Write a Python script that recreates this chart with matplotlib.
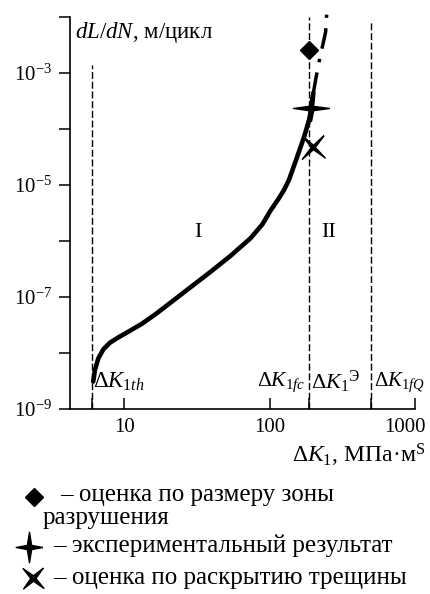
import matplotlib
matplotlib.use("Agg")
import matplotlib.pyplot as plt
from matplotlib.lines import Line2D

plt.rcParams["font.family"] = ["Liberation Serif", "DejaVu Serif"]
plt.rcParams["mathtext.fontset"] = "custom"
plt.rcParams["mathtext.rm"] = "Liberation Serif"
plt.rcParams["mathtext.it"] = "Liberation Serif:italic"
plt.rcParams["mathtext.bf"] = "Liberation Serif:bold"

# curve dL/dN (solid part, region I -> II)
k_curve = [6.14, 6.31, 6.65, 7.2, 8.0, 9.14, 10.7, 13.2, 16.4, 20.7, 28.5,
           39.2, 53.8, 74.0, 89.5, 101.6, 115, 125.6, 136, 155, 173, 187,
           197, 200]
rate_curve = [3.1e-9, 5.0e-9, 8.0e-9, 1.16e-8, 1.53e-8, 1.9e-8, 2.4e-8,
              3.3e-8, 4.9e-8, 7.8e-8, 1.48e-7, 2.8e-7, 5.4e-7, 1.12e-6,
              2.0e-6, 3.5e-6, 5.6e-6, 8.1e-6, 1.23e-5, 3.2e-5, 7.3e-5,
              1.45e-4, 2.9e-4, 4.4e-4]
# extrapolated (dash-dot) part
k_extra = [200, 208, 218, 243, 247]
rate_extra = [4.4e-4, 7.8e-4, 1.5e-3, 5.4e-3, 1.1e-2]

# point estimates
k_diamond, rate_diamond = 186, 2.6e-3
k_star, rate_star = 192, 2.4e-4
k_cross, rate_cross = 200, 4.8e-5

# characteristic levels
k_th, k_fc, k_fq = 6.0, 188, 500
rate_th_top = 1.4e-3

yticks = [1e-9, 1e-8, 1e-7, 1e-6, 1e-5, 1e-4, 1e-3, 1e-2]
ylabels = ["$10^{-9}$", "", "$10^{-7}$", "", "$10^{-5}$", "", "$10^{-3}$", ""]
xticks = [10, 100, 1000]
xlabels = ["10", "100", ""]

legend_items = ["– оценка по размеру зоны", "разрушения",
                "– экспериментальный результат",
                "– оценка по раскрытию трещины"]


def star4(rx, ry, inner):
    return [(rx, 0), (inner, inner), (0, ry), (-inner, inner),
            (-rx, 0), (-inner, -inner), (0, -ry), (inner, -inner), (rx, 0)]


star_marker = star4(1.0, 0.72, 0.12)
cross_marker = [(0.8, 0.9), (0.14, 0.0), (0.9, -0.8), (0.0, -0.17),
                (-0.85, -0.9), (-0.17, 0.0), (-0.8, 0.85), (0.0, 0.17),
                (0.8, 0.9)]
legend_star = star4(0.87, 1.0, 0.14)
legend_cross = [(0.9, 0.95), (0.22, 0.0), (0.95, -0.9), (0.0, -0.25),
                (-0.9, -0.95), (-0.25, 0.0), (-0.95, 0.9), (0.0, 0.25),
                (0.9, 0.95)]

W, H = 431, 594
fig = plt.figure(figsize=(W / 100, H / 100), dpi=100)
ax = fig.add_axes([70 / W, 1 - 409 / H, 345 / W, 392 / H])
ax.set_xscale("log")
ax.set_yscale("log")
ax.set_xlim(4.25, 1000)
ax.set_ylim(1e-9, 1e-2)

for s in ["top", "right"]:
    ax.spines[s].set_visible(False)
ax.spines["left"].set_linewidth(1.2)
ax.spines["bottom"].set_linewidth(1.2)

# vertical dashed lines
dash = (0, (5, 2))
ax.plot([k_th, k_th], [1e-9, rate_th_top], color="black", lw=1, ls=dash)
ax.plot([k_fc, k_fc], [1e-9, 1e-2], color="black", lw=1, ls=dash)
ax.plot([k_fq, k_fq], [1e-9, 9e-3], color="black", lw=1, ls=dash)

# curve
ax.plot(k_curve, rate_curve, color="black", lw=3.3, solid_capstyle="round",
        solid_joinstyle="round")
ax.plot(k_extra, rate_extra, color="black", lw=2.5, ls=(0, (6, 3, 1, 3)),
        clip_on=False)

ax.plot([k_diamond], [rate_diamond], marker="D", ms=9.5, color="black",
        ls="none")
ax.plot([k_star], [rate_star], marker=star_marker, ms=26, color="black",
        ls="none")
ax.plot([k_cross], [rate_cross], marker=cross_marker, ms=17, color="black",
        ls="none")

ax.set_yticks(yticks)
ax.set_yticklabels(ylabels)
ax.set_yticks([], minor=True)
ax.set_xticks(xticks)
ax.set_xticklabels(xlabels)
ax.set_xticks([k_th, k_fc, k_fq], minor=True)
ax.set_xticklabels([], minor=True)
ax.tick_params(axis="y", which="both", direction="out", length=8, width=1.1,
               pad=5, labelsize=15)
ax.tick_params(axis="x", which="both", direction="in", length=8, width=1.1,
               pad=6.5, labelsize=15)
# last tick label sits a little left of its tick, as in the figure
ax.annotate("1000", xy=(1000, 0), xycoords=("data", "axes fraction"),
            xytext=(-7, -6.5), textcoords="offset points", ha="center",
            va="top", fontsize=15)

ax.text(0.015, 0.96, "$dL/dN$, м/цикл", transform=ax.transAxes, fontsize=16.5,
        ha="left", va="center")
ax.text(6.1, 3.0e-9, r"$\mathit{\Delta K}_{1th}$", fontsize=16.5,
        ha="left", va="center")
ax.text(176, 3.0e-9, r"$\mathit{\Delta K}_{1fc}$", fontsize=15.5,
        ha="right", va="center")
ax.text(193, 3.0e-9, r"$\mathit{\Delta K}_1{}^{\mathrm{Э}}$", fontsize=16,
        ha="left", va="center")
ax.text(525, 3.0e-9, r"$\mathit{\Delta K}_{1fQ}$", fontsize=15,
        ha="left", va="center")
ax.text(32, 1.4e-6, "I", fontsize=16, ha="center", va="center")
ax.text(255, 1.4e-6, "II", fontsize=16, ha="center", va="center")

fig.text(425 / W, 1 - 455 / H, r"$\mathit{\Delta K}_1$, МПа·м$^{\mathrm{S}}$",
         fontsize=17, ha="right", va="center")

# legend drawn by hand
fs_leg = 18
fig.add_artist(Line2D([34 / W], [1 - 497 / H], marker="D", ms=9,
                      color="black", transform=fig.transFigure))
fig.add_artist(Line2D([29 / W], [1 - 547 / H], marker=legend_star, ms=22,
                      color="black", transform=fig.transFigure))
fig.add_artist(Line2D([33 / W], [1 - 578 / H], marker=legend_cross, ms=15,
                      color="black", transform=fig.transFigure))
fig.text(60 / W, 1 - 495 / H, legend_items[0], fontsize=fs_leg,
         ha="left", va="center")
fig.text(43 / W, 1 - 518 / H, legend_items[1], fontsize=fs_leg, ha="left",
         va="center")
fig.text(53 / W, 1 - 546 / H, legend_items[2], fontsize=fs_leg, ha="left",
         va="center")
fig.text(53 / W, 1 - 578 / H, legend_items[3], fontsize=fs_leg, ha="left",
         va="center")

fig.savefig("out.png", dpi=100)
